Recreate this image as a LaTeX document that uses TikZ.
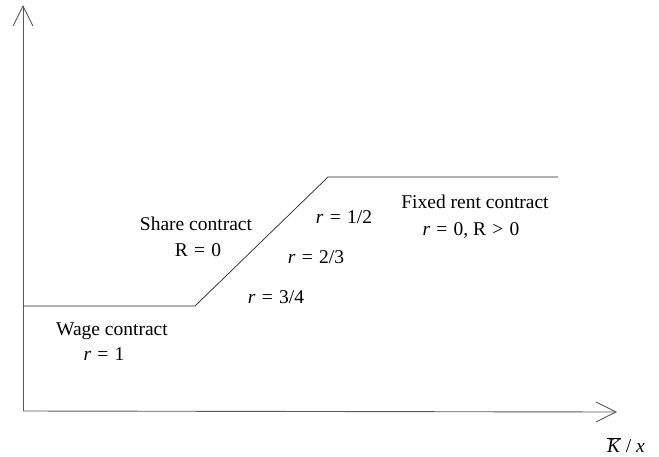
\documentclass[tikz,border=0pt]{standalone}
\usepackage{fontspec}
\setmainfont{Liberation Serif}
\usetikzlibrary{arrows.meta}
\tikzset{
  axe/.style={line width=0.9pt, black!65, -{Straight Barb[length=20pt,width=20pt,line width=0.9pt]}},
  courbe/.style={line width=0.7pt, black!85},
  etiquette/.style={font=\fontsize{19.5}{23}\selectfont, align=center, inner sep=0pt, anchor=base}
}
\newcommand{\rr}{\textit{r}}
\newcommand{\egal}{\hspace{0.32em}=\hspace{0.32em}}
\newcommand{\plusgrand}{\hspace{0.32em}>\hspace{0.32em}}
\begin{document}
\begin{tikzpicture}[x=1pt, y=-1pt]
  \useasboundingbox (0,0) rectangle (659,456);

  % Les axes
  \coordinate (O) at (23,411);
  \coordinate (Ytop) at (23,5);
  \coordinate (Xend) at (617,412);
  \draw[axe] (O) -- (Ytop);
  \draw[axe] (O) -- (Xend);

  % La courbe
  \coordinate (A) at (23,306);
  \coordinate (B) at (195,306);
  \coordinate (C) at (328,177);
  \coordinate (D) at (558,177);
  \draw[courbe] (A) -- (B) -- (C) -- (D);

  % Les textes
  \node[etiquette] (wage) at (112,335) {Wage contract};
  \node[etiquette] (wager) at (104,360) {\rr\egal1};
  \node[etiquette] (share) at (196,230) {Share contract};
  \node[etiquette] (shareR) at (198,256) {R\egal0};
  \node[etiquette] (r12) at (344,223) {\rr\egal1/2};
  \node[etiquette] (r23) at (316,263) {\rr\egal2/3};
  \node[etiquette] (r34) at (276,303) {\rr\egal3/4};
  \node[etiquette] (fixed) at (475,208) {Fixed rent contract};
  \node[etiquette] (fixedr) at (471,235) {\rr\egal0, R\plusgrand0};
  \node[etiquette] (xlab) at (626,452) {$\overline{\mbox{\textit{K}}}$ / \textit{x}};

\end{tikzpicture}
\end{document}
